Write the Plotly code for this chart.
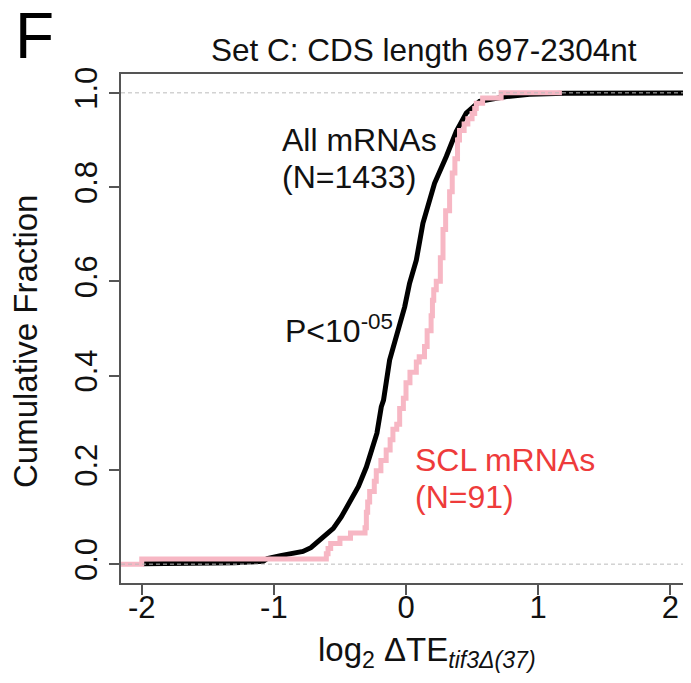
import plotly.graph_objects as go

# ---- data ----
# All mRNAs (N=1433): points along the empirical cumulative curve
all_x = [-1.99, -1.39, -1.30, -1.08, -1.05, -0.95, -0.85, -0.78, -0.72, -0.68,
         -0.62, -0.55, -0.49, -0.43, -0.36, -0.30, -0.25, -0.22, -0.187, -0.17,
         -0.124, -0.048, -0.01, 0.027, 0.078, 0.128, 0.216, 0.305, 0.38, 0.456,
         0.557, 0.76, 0.935, 1.2, 2.16]
all_y = [0.0007, 0.0014, 0.003, 0.006, 0.012, 0.018, 0.022, 0.027, 0.035, 0.044,
         0.058, 0.076, 0.10, 0.13, 0.165, 0.206, 0.25, 0.278, 0.334, 0.348,
         0.433, 0.511, 0.546, 0.596, 0.645, 0.723, 0.808, 0.865, 0.918, 0.957,
         0.982, 0.992, 0.997, 0.999, 1.0]

# SCL mRNAs (N=91): step knots (x, cumulative fraction after the step)
scl_x = [-2.16, -2.00, -0.603, -0.59, -0.57, -0.50, -0.42, -0.31, -0.30, -0.29,
         -0.275, -0.24, -0.225, -0.19, -0.15, -0.12, -0.099, -0.07, -0.048, -0.02,
         0.0, 0.03, 0.078, 0.10, 0.14, 0.16, 0.19, 0.20, 0.21, 0.229,
         0.26, 0.28, 0.30, 0.33, 0.35, 0.37, 0.39, 0.405, 0.44, 0.468,
         0.50, 0.52, 0.532, 0.58, 0.72, 1.18]
scl_y = [0.0, 0.011, 0.022, 0.033, 0.044, 0.055, 0.066, 0.077, 0.11, 0.132,
         0.154, 0.176, 0.198, 0.22, 0.242, 0.264, 0.286, 0.297, 0.33, 0.352,
         0.385, 0.407, 0.429, 0.44, 0.462, 0.495, 0.527, 0.56, 0.582, 0.60,
         0.65, 0.71, 0.75, 0.79, 0.83, 0.86, 0.90, 0.92, 0.934, 0.945,
         0.956, 0.967, 0.978, 0.989, 1.0, 1.0]

x_ticks = [-2, -1, 0, 1, 2]
x_tick_labels = ["-2", "-1", "0", "1", "2"]
y_ticks = [0.0, 0.2, 0.4, 0.6, 0.8, 1.0]
y_tick_labels = ["0.0", "0.2", "0.4", "0.6", "0.8", "1.0"]

FONT = "Liberation Sans, Arial, Helvetica, sans-serif"
AXC = "#555555"
TXT = "#111111"

fig = go.Figure()
fig.add_trace(go.Scatter(x=all_x, y=all_y, mode="lines",
                         line=dict(color="black", width=5), showlegend=False))
fig.add_trace(go.Scatter(x=scl_x, y=scl_y, mode="lines",
                         line=dict(color="#F7B7C4", width=5, shape="hv"),
                         showlegend=False))

for yv in [0.0, 1.0]:
    fig.add_shape(type="line", xref="paper", x0=0, x1=1, yref="y", y0=yv, y1=yv,
                  line=dict(color="#BBBBBB", width=1, dash="4px,3px"), layer="above")

# page body has an 8px margin: figure is 683x675, plot area spans 570x509
fig.update_layout(
    width=683, height=675,
    margin=dict(l=113, r=0, t=66, b=100, autoexpand=False),
    paper_bgcolor="white", plot_bgcolor="white",
    font=dict(family=FONT, color=TXT),
    xaxis=dict(range=[-2.157, 2.157], tickvals=x_ticks, ticktext=x_tick_labels,
               ticks="outside", ticklen=10, tickwidth=1.5, tickcolor=AXC,
               showline=True, mirror=True, linecolor=AXC, linewidth=1.5,
               showgrid=False, zeroline=False, automargin=False,
               ticklabelstandoff=-14,
               tickfont=dict(size=31, family=FONT, color=TXT)),
    yaxis=dict(range=[-0.04, 1.04], tickvals=y_ticks, ticktext=y_tick_labels,
               ticks="outside", ticklen=10, tickwidth=1.5, tickcolor=AXC,
               showline=True, mirror=False, linecolor=AXC, linewidth=1.5,
               showgrid=False, zeroline=False, tickangle=-90, automargin=False,
               tickfont=dict(size=31, family=FONT, color=TXT)),
)

# screen-pixel helpers (plot area on screen: x 121..691, y 74..583)
def px_to_paper_x(p):
    return (p - 121) / 570.0

def px_to_paper_y(p):
    return (583 - p) / 509.0

ann = []
ann.append(dict(text="F", x=px_to_paper_x(34), y=px_to_paper_y(36), xref="paper", yref="paper",
                showarrow=False, font=dict(size=64, family=FONT, color="black"),
                xanchor="center", yanchor="middle"))
ann.append(dict(text="Set C: CDS length 697-2304nt", x=px_to_paper_x(424), y=px_to_paper_y(50),
                xref="paper", yref="paper", showarrow=False,
                font=dict(size=31.5, family=FONT, color=TXT),
                xanchor="center", yanchor="middle"))
ann.append(dict(text="Cumulative Fraction", x=px_to_paper_x(25), y=px_to_paper_y(342),
                xref="paper", yref="paper", showarrow=False, textangle=-90,
                font=dict(size=33, family=FONT, color=TXT),
                xanchor="center", yanchor="middle"))
ann.append(dict(text="log<sub>2</sub> ΔTE<sub><i>tif3Δ(37)</i></sub>",
                x=px_to_paper_x(427), y=px_to_paper_y(652),
                xref="paper", yref="paper", showarrow=False,
                font=dict(size=33, family=FONT, color=TXT),
                xanchor="center", yanchor="middle"))
# in-plot labels (data coordinates)
ann.append(dict(text="All mRNAs", x=-0.956, y=0.901, xref="x", yref="y", showarrow=False,
                font=dict(size=32, family=FONT, color=TXT),
                xanchor="left", yanchor="middle"))
ann.append(dict(text="(N=1433)", x=-0.956, y=0.822, xref="x", yref="y", showarrow=False,
                font=dict(size=32, family=FONT, color=TXT),
                xanchor="left", yanchor="middle"))
ann.append(dict(text="P<10<sup>-05</sup>", x=-0.933, y=0.50, xref="x", yref="y", showarrow=False,
                font=dict(size=32, family=FONT, color=TXT),
                xanchor="left", yanchor="middle"))
ann.append(dict(text="SCL mRNAs", x=0.05, y=0.222, xref="x", yref="y", showarrow=False,
                font=dict(size=32, family=FONT, color="#EE3B3B"),
                xanchor="left", yanchor="middle"))
ann.append(dict(text="(N=91)", x=0.05, y=0.143, xref="x", yref="y", showarrow=False,
                font=dict(size=32, family=FONT, color="#EE3B3B"),
                xanchor="left", yanchor="middle"))
fig.update_layout(annotations=ann)

fig.write_html("out.html")
